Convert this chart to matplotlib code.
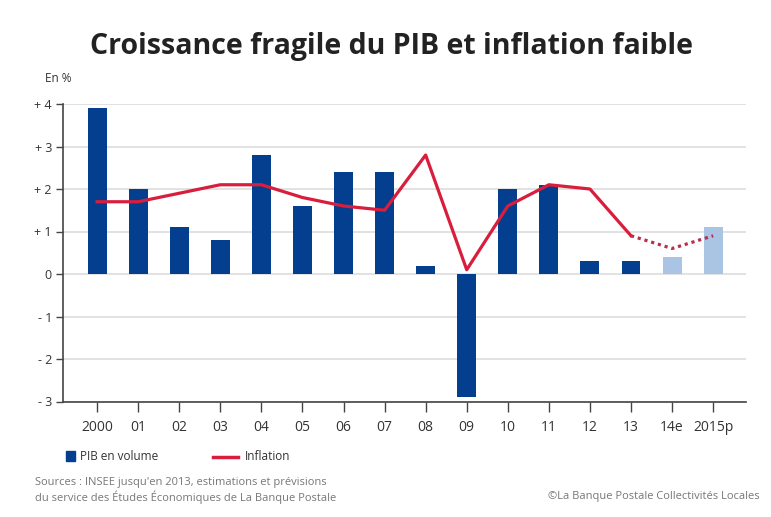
import numpy as np
import matplotlib.pyplot as plt

years = ['2000', '01', '02', '03', '04', '05', '06', '07', '08', '09', '10', '11', '12', '13', '14e', '2015p']
pib = [3.9, 2.0, 1.1, 0.8, 2.8, 1.6, 2.4, 2.4, 0.2, -2.9, 2.0, 2.1, 0.3, 0.3, 0.4, 1.1]
inflation = [1.7, 1.7, 1.9, 2.1, 2.1, 1.8, 1.6, 1.5, 2.8, 0.1, 1.6, 2.1, 2.0, 0.9, 0.6, 0.9]
n_obs = 14  # 2000-13 observed, 14e & 2015p estimated
y_ticks = [4, 3, 2, 1, 0, -1, -2, -3]
y_labels = ['+ 4', '+ 3', '+ 2', '+ 1', '0', '- 1', '- 2', '- 3']

dark_blue = '#033f8e'
light_blue = '#a9c5e3'
red = '#d81e3c'
txt = '#333333'

plt.rcParams['font.family'] = ['Open Sans', 'DejaVu Sans']

fig = plt.figure(figsize=(7.71, 5.17), dpi=100)
ax = fig.add_axes([63/771, 1-401.5/517, (746-63)/771, (401.5-104)/517])

x = np.arange(len(years))
cols = [dark_blue]*n_obs + [light_blue]*(len(years)-n_obs)
ax.bar(x, pib, width=0.46, color=cols, zorder=2)

ax.plot(x[:n_obs], inflation[:n_obs], color=red, lw=2.3, zorder=3)
ax.plot(x[n_obs-1:], inflation[n_obs-1:], color='#b8304a', lw=2.3, ls=(0, (1, 1.2)), zorder=3)

ax.set_ylim(-3, 4)
ax.set_xlim(-0.83, 15.8)
ax.set_yticks(y_ticks)
ax.set_yticklabels(y_labels, fontsize=9, color=txt)
ax.set_xticks(x)
ax.set_xticklabels(years, fontsize=10, color=txt)
ax.tick_params(axis='x', length=7, width=1, color='#444444', pad=6)
ax.tick_params(axis='y', length=5, width=1, color='#444444', pad=3)
for yv in y_ticks:
    ax.axhline(yv, color='#dddddd', lw=1.2, zorder=1)
for s in ['top', 'right']:
    ax.spines[s].set_visible(False)
ax.spines['left'].set_color('#444444')
ax.spines['bottom'].set_color('#444444')
ax.spines['left'].set_linewidth(1.2)
ax.spines['bottom'].set_linewidth(1.2)

fig.text(0.508, 0.91, 'Croissance fragile du PIB et inflation faible', ha='center', va='center',
         fontsize=20.5, fontweight='bold', color='#222222')
fig.text(45/771, 1-78/517, 'En %', fontsize=8.5, color=txt, va='center')

# legend
fig.patches.append(plt.Rectangle((66/771, 1-461/517), 9/771, 10/517, color=dark_blue, transform=fig.transFigure))
fig.text(80/771, 1-456/517, 'PIB en volume', fontsize=8.5, color=txt, va='center')
fig.lines.append(plt.Line2D([213/771, 238/771], [1-457/517, 1-457/517], color=red, lw=2.5, transform=fig.transFigure))
fig.text(245/771, 1-456/517, 'Inflation', fontsize=8.5, color=txt, va='center')

fig.text(35/771, 1-483/517, "Sources : INSEE jusqu'en 2013, estimations et prévisions", fontsize=8, color='#777777', va='center')
fig.text(35/771, 1-497/517, "du service des Études Économiques de La Banque Postale", fontsize=8, color='#777777', va='center')
fig.text(760/771, 1-497/517, "©La Banque Postale Collectivités Locales", fontsize=8, color='#777777', va='center', ha='right')

fig.savefig('out.png', dpi=100)
